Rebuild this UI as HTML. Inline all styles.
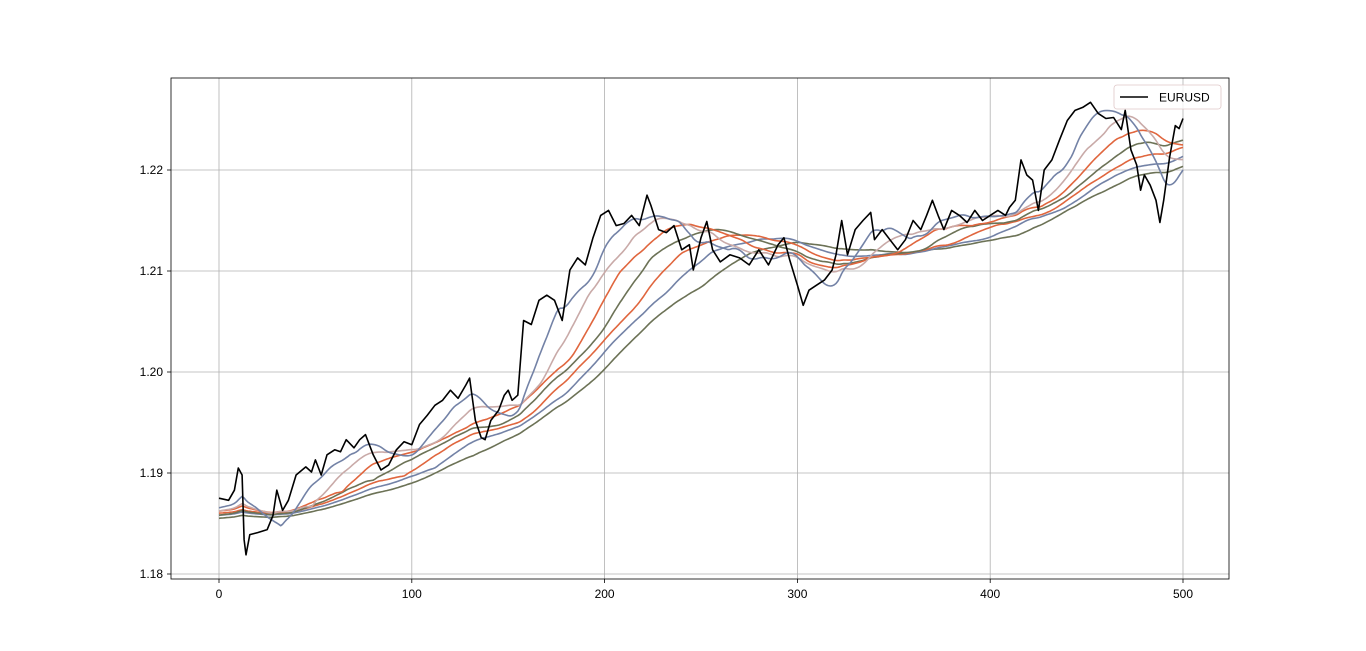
<!DOCTYPE html>
<html><head><meta charset="utf-8"><style>
body{margin:0;background:#fff;}
svg{display:block;font-family:"Liberation Sans","DejaVu Sans",sans-serif;}
</style></head><body>
<svg id="chart" width="1366" height="651" viewBox="0 0 1366 651"></svg>
<script>
const xIdx=[0,5,8,10,12,13,14,16,20,25,28,30,33,36,40,45,48,50,53,56,60,63,66,70,73,76,80,84,88,92,96,100,104,108,112,116,120,124,128,130,133,136,138,141,145,148,150,152,155,158,162,166,170,174,178,182,186,190,194,198,202,206,210,214,218,222,224,228,232,236,240,244,246,250,253,256,260,265,270,275,280,285,290,293,296,300,303,306,310,314,318,320,323,326,330,334,338,340,344,348,352,356,360,364,367,370,373,376,380,384,388,392,396,400,404,408,410,413,416,419,422,425,428,432,436,440,444,448,452,456,460,464,468,470,473,476,478,480,483,486,488,490,493,496,498,500];
const price=[1.1875,1.1873,1.1883,1.1905,1.1898,1.1834,1.1819,1.1839,1.1841,1.1844,1.1858,1.1883,1.1863,1.1873,1.1898,1.1906,1.1901,1.1913,1.1898,1.1918,1.1923,1.1921,1.1933,1.1925,1.1933,1.1938,1.1918,1.1903,1.1908,1.1923,1.1931,1.1928,1.1948,1.1957,1.1967,1.1972,1.1982,1.1974,1.1987,1.1994,1.1952,1.1935,1.1933,1.1952,1.1962,1.1977,1.1982,1.1972,1.1977,1.2051,1.2047,1.2071,1.2076,1.2071,1.2051,1.2101,1.2113,1.2106,1.2133,1.2155,1.2160,1.2145,1.2147,1.2155,1.2145,1.2175,1.2165,1.2141,1.2138,1.2145,1.2121,1.2126,1.2101,1.2133,1.2149,1.2121,1.2109,1.2116,1.2113,1.2106,1.2121,1.2106,1.2126,1.2133,1.2111,1.2086,1.2066,1.2081,1.2086,1.2091,1.2101,1.2116,1.2150,1.2116,1.2141,1.2150,1.2158,1.2131,1.2141,1.2131,1.2121,1.2131,1.2150,1.2141,1.2155,1.2170,1.2155,1.2141,1.2160,1.2155,1.2148,1.2160,1.2150,1.2155,1.2160,1.2155,1.2163,1.2170,1.2210,1.2195,1.2190,1.2160,1.2200,1.2210,1.2230,1.2249,1.2259,1.2262,1.2267,1.2256,1.2251,1.2252,1.2240,1.2259,1.2220,1.2205,1.2180,1.2195,1.2185,1.2170,1.2148,1.2170,1.2212,1.2244,1.2241,1.2251];
const maWindows=[20,36,52,68,84,100,120];
const maColors=["#7382a6","#c9aaa8","#e0663e","#6c7256","#e0663e","#7382a6","#6c7256"];
const maSeed=[1.1865,1.1862,1.1862,1.1858,1.1860,1.1858,1.1855];
const xTicks=[0,100,200,300,400,500];
const yTicks=[1.18,1.19,1.20,1.21,1.22];
const yTickLabels=["1.18","1.19","1.20","1.21","1.22"];

const NS="http://www.w3.org/2000/svg";
const svg=document.getElementById('chart');
const L=171,R=1229,T=78,B=579;
const sx=v=>219+(v/500)*964;
const sy=v=>574-(v-1.18)*10100;
function mk(tag,attrs,parent){const e=document.createElementNS(NS,tag);for(const k in attrs)e.setAttribute(k,attrs[k]);(parent||svg).appendChild(e);return e;}
const grid=mk('g',{});


xTicks.forEach(t=>{
  const l=mk('line',{x1:sx(t),x2:sx(t),y1:T,y2:B,stroke:'#b0b0b0','stroke-width':0.8},grid);
  
  
  const k=mk('line',{x1:sx(t),x2:sx(t),y1:B,y2:B+4,stroke:'#000','stroke-width':0.8});
  
  
  const tx=mk('text',{x:sx(t),y:B+19,'text-anchor':'middle','font-size':12,fill:'#000'});
  tx.textContent=t;
  
  
});
yTicks.forEach((t,i)=>{
  const l=mk('line',{x1:L,x2:R,y1:sy(t),y2:sy(t),stroke:'#b0b0b0','stroke-width':0.8},grid);
  
  
  const k=mk('line',{x1:L-4,x2:L,y1:sy(t),y2:sy(t),stroke:'#000','stroke-width':0.8});
  
  
  const tx=mk('text',{x:L-8,y:sy(t)+4,'text-anchor':'end','font-size':12,fill:'#000'});
  tx.textContent=yTickLabels[i];
  
  
});
// resample price to integer steps (for moving-average computation)
const last=xIdx[xIdx.length-1];
const series=[];
for(let t=0,k=0;t<=last;t++){
  while(k<xIdx.length-2&&xIdx[k+1]<t)k++;
  const x0=xIdx[k],x1=xIdx[k+1];const f=(t-x0)/(x1-x0);
  series.push(price[k]+(price[k+1]-price[k])*Math.max(0,Math.min(1,f)));
}
const mas=maWindows.map((w,j)=>{
  const out=[];
  for(let t=0;t<=last;t++){
    let s=0;
    for(let u=t-w+1;u<=t;u++)s+=u<0?maSeed[j]:series[u];
    out.push(s/w);
  }
  return out;
});
for(let j=mas.length-1;j>=0;j--){
  const d=mas[j].map((v,i)=>(i?'L':'M')+sx(i).toFixed(1)+','+sy(v).toFixed(1)).join('');
  const p=mk('path',{d:d,fill:'none',stroke:maColors[j],'stroke-width':1.6,'stroke-linejoin':'round'});
  
  
}
const d0=price.map((v,i)=>(i?'L':'M')+sx(xIdx[i]).toFixed(1)+','+sy(v).toFixed(1)).join('');
const pl=mk('path',{d:d0,fill:'none',stroke:'#000','stroke-width':1.6,'stroke-linejoin':'round'});


const fr=mk('rect',{x:L,y:T,width:R-L,height:B-T,fill:'none',stroke:'#000','stroke-width':0.8});


const lg=mk('g',{});


mk('rect',{x:1114,y:85,width:107,height:24,rx:3,fill:'#fff','fill-opacity':0.8,stroke:'#e0c8c8','stroke-width':0.8},lg);
mk('line',{x1:1120,x2:1148,y1:97,y2:97,stroke:'#000','stroke-width':1.6},lg);
const lt=mk('text',{x:1159,y:101.5,'font-size':12,fill:'#000'},lg);
lt.textContent='EURUSD';


</script>
</body></html>
